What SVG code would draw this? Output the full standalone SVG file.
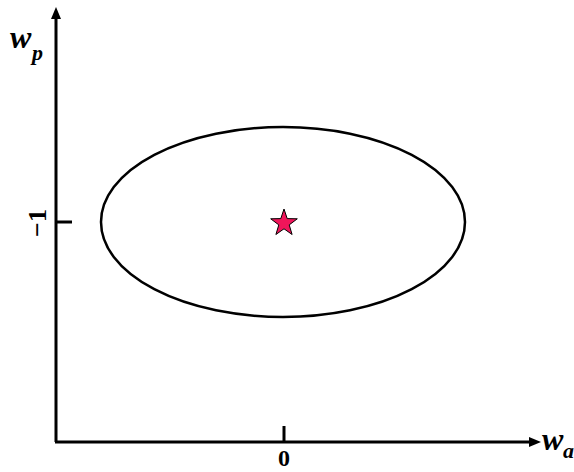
<svg xmlns="http://www.w3.org/2000/svg" width="574" height="472" viewBox="0 0 574 472">
<style>
.ax{stroke:#000;stroke-width:3;fill:none}
.lbl{font-family:"Liberation Serif",serif;font-weight:bold;font-style:italic;fill:#000}
.nm{font-family:"Liberation Serif",serif;font-weight:bold;fill:#000}
</style>
<rect width="574" height="472" fill="#fff"/>
<g id="axes">
<line class="ax" x1="56" y1="442" x2="56" y2="18"/>
<polygon points="56,7 51,19 61,19" fill="#000"/>
<line class="ax" x1="55" y1="442" x2="530" y2="442"/>
<polygon points="541,442 529,437 529,447" fill="#000"/>
<line class="ax" x1="56" y1="222" x2="72" y2="222"/>
<line class="ax" x1="284" y1="442" x2="284" y2="426"/>
</g>
<g id="labels">
<text class="lbl" x="10" y="48" font-size="32">w</text>
<text class="lbl" x="32" y="60" font-size="22">p</text>
<text class="lbl" x="542" y="450" font-size="32">w</text>
<text class="lbl" x="563" y="458" font-size="22">a</text>
<text class="nm" x="284" y="466" font-size="24" text-anchor="middle">0</text>
<text class="nm" x="0" y="0" font-size="26" text-anchor="middle" transform="translate(46,223) rotate(-90)">−1</text>
</g>
<g id="ellipse">
<ellipse cx="283" cy="222" rx="182" ry="95" fill="none" stroke="#000" stroke-width="2.5"/>
</g>
<g id="star">
<polygon points="284,209 287.2,218.6 297.3,218.8 289.2,224.9 292.1,234.5 284,228.8 275.9,234.5 278.8,224.9 270.7,218.8 280.8,218.6" fill="#f0155a" stroke="#000" stroke-width="1"/>
</g>
</svg>
